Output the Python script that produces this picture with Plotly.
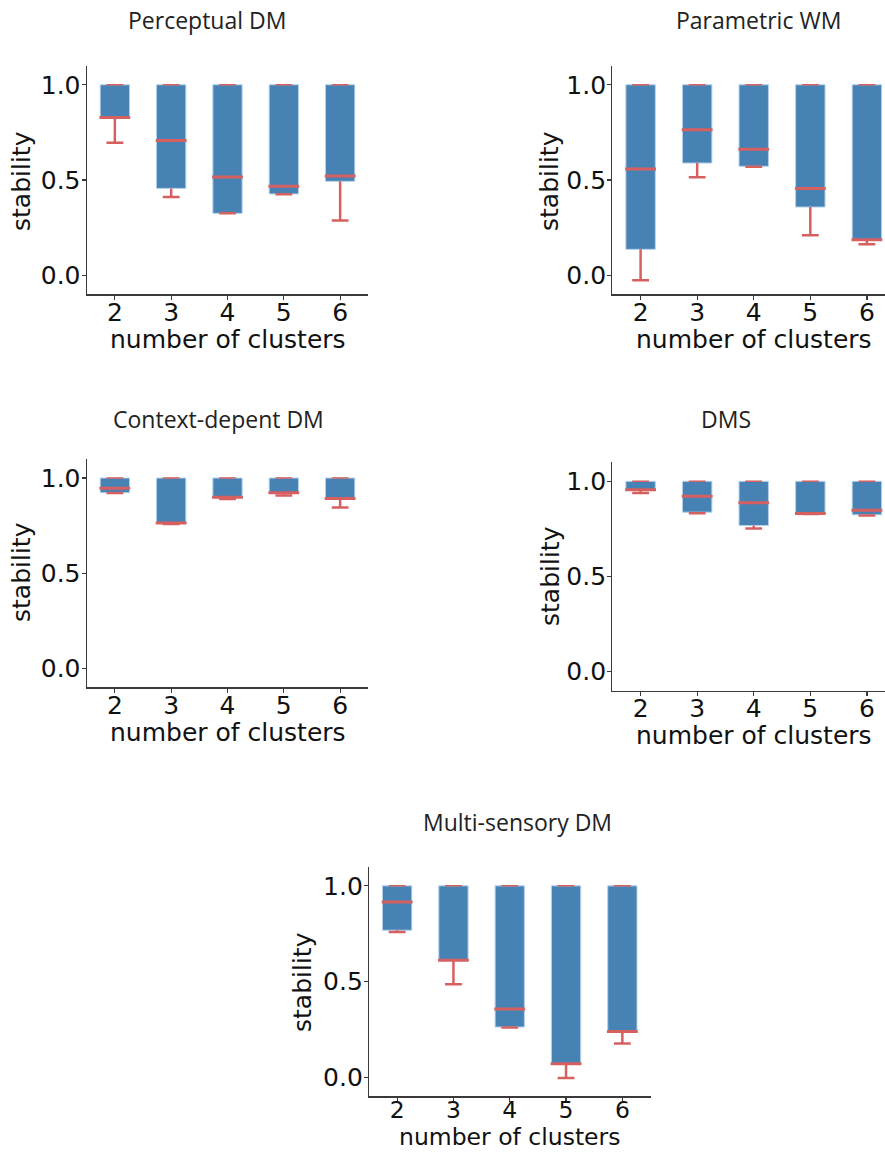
import plotly.graph_objects as go

W, H = 885, 1153

clusters = [2, 3, 4, 5, 6]
tick_vals_y = [0.0, 0.5, 1.0]

titles = ["Perceptual DM", "Parametric WM", "Context-depent DM", "DMS", "Multi-sensory DM"]

# Perceptual DM
perc_q1 = [0.828, 0.456, 0.325, 0.427, 0.493]
perc_med = [0.828, 0.708, 0.516, 0.467, 0.521]
perc_q3 = [1.0, 1.0, 1.0, 1.0, 1.0]
perc_lo = [0.696, 0.411, 0.325, 0.425, 0.287]
perc_hi = [1.0, 1.0, 1.0, 1.0, 1.0]

# Parametric WM
param_q1 = [0.136, 0.589, 0.572, 0.358, 0.187]
param_med = [0.558, 0.764, 0.661, 0.456, 0.187]
param_q3 = [1.0, 1.0, 1.0, 1.0, 1.0]
param_lo = [-0.026, 0.514, 0.570, 0.210, 0.163]
param_hi = [1.0, 1.0, 1.0, 1.0, 1.0]

# Context-depent DM
ctx_q1 = [0.923, 0.764, 0.900, 0.923, 0.892]
ctx_med = [0.946, 0.763, 0.899, 0.923, 0.892]
ctx_q3 = [1.0, 1.0, 1.0, 1.0, 1.0]
ctx_lo = [0.921, 0.759, 0.890, 0.908, 0.845]
ctx_hi = [1.0, 1.0, 1.0, 1.0, 1.0]

# DMS
dms_q1 = [0.956, 0.838, 0.768, 0.831, 0.824]
dms_med = [0.956, 0.921, 0.888, 0.831, 0.848]
dms_q3 = [1.0, 1.0, 1.0, 1.0, 1.0]
dms_lo = [0.939, 0.832, 0.752, 0.829, 0.820]
dms_hi = [1.0, 1.0, 1.0, 1.0, 1.0]

# Multi-sensory DM
multi_q1 = [0.768, 0.611, 0.262, 0.070, 0.239]
multi_med = [0.916, 0.611, 0.356, 0.070, 0.239]
multi_q3 = [1.0, 1.0, 1.0, 1.0, 1.0]
multi_lo = [0.759, 0.485, 0.260, -0.005, 0.176]
multi_hi = [1.0, 1.0, 1.0, 1.0, 1.0]

panels = [
    (perc_q1, perc_med, perc_q3, perc_lo, perc_hi),
    (param_q1, param_med, param_q3, param_lo, param_hi),
    (ctx_q1, ctx_med, ctx_q3, ctx_lo, ctx_hi),
    (dms_q1, dms_med, dms_q3, dms_lo, dms_hi),
    (multi_q1, multi_med, multi_q3, multi_lo, multi_hi),
]

# layout in page pixels: (left, right, top, bottom, xmax)
boxes_px = [
    (86.7, 368.3, 65.7, 294.3, 6.5),
    (612.3, 885.0, 65.7, 294.3, 6.32),
    (86.7, 368.3, 459.0, 687.3, 6.5),
    (612.3, 885.0, 462.3, 690.7, 6.32),
    (369.0, 650.5, 866.7, 1096.3, 6.5),
]
title_pos = [(207, 20), (758, 20), (218, 419), (726, 419), (517, 822)]
ylab_pos = [(22, 181), (550, 181), (22, 572), (550, 576), (302, 982)]
xtick_standoff = [-9, -9, -9, -9, -12]
xfont = [25, 25, 25, 25, 23.5]

BLUE = "#4682b4"
EDGE = "#b4d0ea"
RED = "#d65f5f"
AX = "#3a3a3a"
FONT = "DejaVu Sans, Verdana, sans-serif"

fig = go.Figure()
layout = dict(
    width=W, height=H, margin=dict(l=0, r=0, t=0, b=0),
    paper_bgcolor="white", plot_bgcolor="white", showlegend=False,
    font=dict(family=FONT, color="#111"),
)
annotations = []

for i, (q1, med, q3, lo, hi) in enumerate(panels):
    n = i + 1
    xa = "x" if n == 1 else f"x{n}"
    ya = "y" if n == 1 else f"y{n}"
    L, R, T, B, xmax = boxes_px[i]
    fig.add_trace(go.Bar(
        x=clusters, base=q1, y=[b - a for a, b in zip(q1, q3)], width=0.52,
        marker=dict(color=BLUE, line=dict(color=EDGE, width=1)),
        xaxis=xa, yaxis=ya, hoverinfo="skip"))
    # lower whiskers
    wx, wy = [], []
    for c, a, l in zip(clusters, q1, lo):
        wx += [c, c, None]
        wy += [a, l, None]
    fig.add_trace(go.Scatter(x=wx, y=wy, mode="lines",
                             line=dict(color=RED, width=2.5),
                             xaxis=xa, yaxis=ya, hoverinfo="skip"))
    # lower caps
    fig.add_trace(go.Scatter(x=clusters, y=lo, mode="markers",
                             marker=dict(symbol="line-ew", size=12,
                                         line=dict(color=RED, width=2.5)),
                             xaxis=xa, yaxis=ya, hoverinfo="skip"))
    # upper caps
    fig.add_trace(go.Scatter(x=clusters, y=hi, mode="markers",
                             marker=dict(symbol="line-ew", size=12,
                                         line=dict(color=RED, width=1.5)),
                             xaxis=xa, yaxis=ya, hoverinfo="skip"))
    # medians
    fig.add_trace(go.Scatter(x=clusters, y=med, mode="markers",
                             marker=dict(symbol="line-ew", size=22,
                                         line=dict(color=RED, width=3)),
                             xaxis=xa, yaxis=ya, hoverinfo="skip"))

    axkey_x = "xaxis" if n == 1 else f"xaxis{n}"
    axkey_y = "yaxis" if n == 1 else f"yaxis{n}"
    layout[axkey_x] = dict(
        domain=[L / W, R / W], anchor=ya, range=[1.5, xmax],
        tickvals=clusters, ticktext=[str(c) for c in clusters],
        showline=True, linecolor=AX, linewidth=1.2, ticks="outside",
        ticklen=4, tickwidth=1.2, tickcolor=AX, showgrid=False, zeroline=False,
        tickfont=dict(family=FONT, size=xfont[i], color="#111"),
        ticklabelstandoff=xtick_standoff[i],
        fixedrange=True,
    )
    layout[axkey_y] = dict(
        domain=[1 - B / H, 1 - T / H], anchor=xa, range=[-0.1, 1.1],
        tickvals=tick_vals_y, ticktext=[f"{v:.1f}" for v in tick_vals_y],
        showline=True, linecolor=AX, linewidth=1.2, ticks="outside",
        ticklen=4, tickwidth=1.2, tickcolor=AX, showgrid=False, zeroline=False,
        tickfont=dict(family=FONT, size=25, color="#111"),
        ticklabelstandoff=-4,
        fixedrange=True,
    )
    tx, ty = title_pos[i]
    annotations.append(dict(
        text=titles[i], x=tx / W, y=1 - ty / H, xref="paper", yref="paper",
        xanchor="center", yanchor="middle", showarrow=False,
        font=dict(family="Open Sans", size=23, color="#222")))
    lx, ly = ylab_pos[i]
    annotations.append(dict(
        text="stability", x=lx / W, y=1 - ly / H, xref="paper", yref="paper",
        xanchor="center", yanchor="middle", showarrow=False, textangle=-90,
        font=dict(family=FONT, size=25, color="#111")))
    cx = (L + (L + (R - L) * (6.5 - 1.5) / (xmax - 1.5))) / 2
    if n == 5:
        xl = dict(y=0.0, yanchor="bottom")
    else:
        xl = dict(y=1 - (B + 45) / H, yanchor="middle")
    annotations.append(dict(
        text="number of clusters", x=cx / W, xref="paper", yref="paper",
        xanchor="center", showarrow=False,
        font=dict(family=FONT, size=xfont[i], color="#111"), **xl))

layout["annotations"] = annotations
fig.update_layout(**layout)
fig.write_html(
    "out.html",
    config={"displayModeBar": False, "staticPlot": True},
    post_script="document.body.style.margin='0';document.body.style.overflow='hidden';",
)
